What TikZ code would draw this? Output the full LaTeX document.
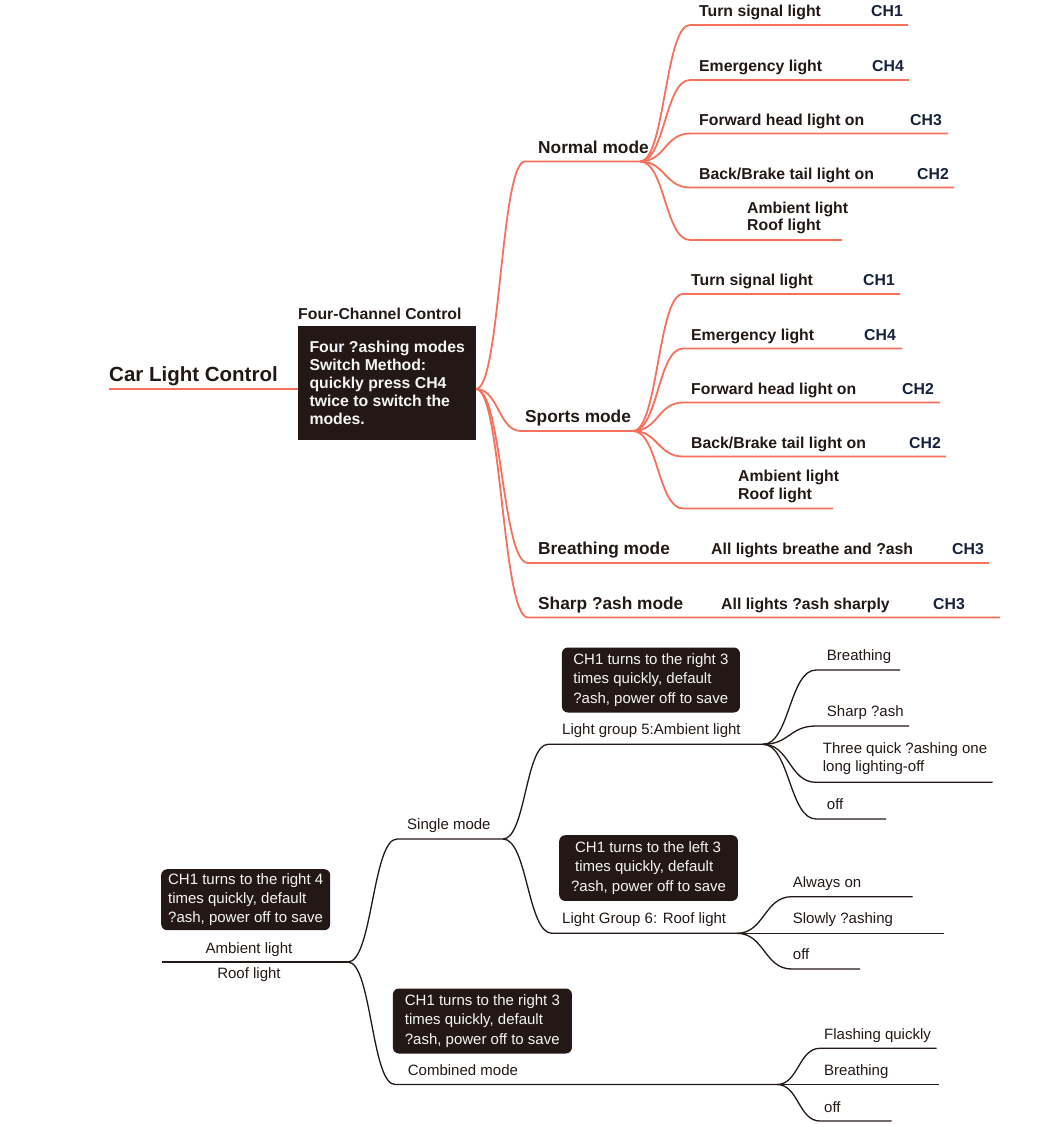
\documentclass[tikz,border=0pt]{standalone}
\usepackage{fontspec}
\setmainfont{Liberation Sans}
\usetikzlibrary{calc}
\definecolor{lred}{RGB}{247,112,92}
\definecolor{ink}{RGB}{35,24,21}
\definecolor{chblue}{RGB}{22,35,60}
\definecolor{boxfill}{RGB}{35,24,21}
\definecolor{boxtext}{RGB}{245,245,245}
\tikzset{
 lbl/.style={inner sep=0pt, anchor=south west, text depth=0pt, text=ink, align=left},
 rootf/.style={font=\bfseries\fontsize{20.5}{24}\selectfont},
 modef/.style={font=\bfseries\fontsize{17.3}{20}\selectfont},
 subf/.style={font=\bfseries\fontsize{15.8}{17.5}\selectfont},
 subf2/.style={font=\bfseries\fontsize{15.8}{18.5}\selectfont},
 chf/.style={font=\bfseries\fontsize{15.8}{18}\selectfont, text=chblue},
 lowf/.style={font=\fontsize{15}{18.4}\selectfont},
 rl/.style={draw=lred, line width=1.8pt},
 bl/.style={draw=ink, line width=1.3pt},
 topbox/.style={fill=boxfill, text=boxtext, anchor=north west, inner xsep=0pt, inner ysep=0pt, align=left, font=\bfseries\fontsize{15.8}{18}\selectfont},
 lowbox/.style={fill=boxfill, text=boxtext, rounded corners=6pt, anchor=north west, inner xsep=0pt, inner ysep=0pt, align=left, font=\fontsize{15}{19.3}\selectfont},
}
\newcommand\brn[4]{\draw[#1] (#2) .. controls ($(#2)!0.5!(#2 -| #3)$) and ($(#3)!0.5!(#2 |- #3)$) .. (#3) -- (#4);}
\begin{document}
\begin{tikzpicture}[x=1pt,y=-1pt]
\useasboundingbox (0,0) rectangle (1046,1124);
% ---------------- top part ----------------
\coordinate (rootL) at (109,389);
\coordinate (rootR) at (476,389);
\node[lbl,rootf] (root) at (109,382) {Car Light Control};
\node[lbl,subf] (fct) at (298,319.5) {Four-Channel Control};
\node[topbox, minimum width=178pt, minimum height=114pt] (fcc) at (298,326)
  {Four ?ashing modes\\Switch Method:\\quickly press CH4\\twice to switch the\\modes.};
\draw[rl] (rootL) -- (rootL -| fcc.west);

% Normal mode
\coordinate (nmS) at (525,161.5); \coordinate (nmE) at (640,161.5);
\node[lbl,modef] (nmT) at (538,153.5) {Normal mode};
\brn{rl}{rootR}{nmS}{nmE}
\coordinate (n1S) at (690,25);    \coordinate (n1E) at (908,25);
\coordinate (n2S) at (690,80);    \coordinate (n2E) at (909,80);
\coordinate (n3S) at (690,133.5); \coordinate (n3E) at (948,133.5);
\coordinate (n4S) at (690,187.5); \coordinate (n4E) at (954,187.5);
\coordinate (n5S) at (690,240);   \coordinate (n5E) at (842,240);
\foreach \k in {1,...,5} {\brn{rl}{nmE}{n\k S}{n\k E}}
\node[lbl,subf] (n1T) at (699,17) {Turn signal light};
\node[lbl,chf]  (n1C) at (871,17) {CH1};
\node[lbl,subf] (n2T) at (699,72) {Emergency light};
\node[lbl,chf]  (n2C) at (872,72) {CH4};
\node[lbl,subf] (n3T) at (699,125.5) {Forward head light on};
\node[lbl,chf]  (n3C) at (910,125.5) {CH3};
\node[lbl,subf] (n4T) at (699,179.5) {Back/Brake tail light on};
\node[lbl,chf]  (n4C) at (917,179.5) {CH2};
\node[lbl,subf] (n5T) at (747,231) {Ambient light\\Roof light};

% Sports mode
\coordinate (smS) at (521,431); \coordinate (smE) at (633,431);
\node[lbl,modef] (smT) at (525,423) {Sports mode};
\brn{rl}{rootR}{smS}{smE}
\coordinate (s1S) at (683,294);   \coordinate (s1E) at (900,294);
\coordinate (s2S) at (683,348.5); \coordinate (s2E) at (902,348.5);
\coordinate (s3S) at (683,402.5); \coordinate (s3E) at (940,402.5);
\coordinate (s4S) at (683,456.5); \coordinate (s4E) at (946,456.5);
\coordinate (s5S) at (683,508.5); \coordinate (s5E) at (833,508.5);
\foreach \k in {1,...,5} {\brn{rl}{smE}{s\k S}{s\k E}}
\node[lbl,subf] (s1T) at (691,286) {Turn signal light};
\node[lbl,chf]  (s1C) at (863,286) {CH1};
\node[lbl,subf] (s2T) at (691,340.5) {Emergency light};
\node[lbl,chf]  (s2C) at (864,340.5) {CH4};
\node[lbl,subf] (s3T) at (691,394.5) {Forward head light on};
\node[lbl,chf]  (s3C) at (902,394.5) {CH2};
\node[lbl,subf] (s4T) at (691,448.5) {Back/Brake tail light on};
\node[lbl,chf]  (s4C) at (909,448.5) {CH2};
\node[lbl,subf2] (s5T) at (738,500) {Ambient light\\Roof light};

% Breathing mode
\coordinate (bmS) at (528,563); \coordinate (bmE) at (989,563);
\brn{rl}{rootR}{bmS}{bmE}
\node[lbl,modef] (bmT) at (538,555) {Breathing mode};
\node[lbl,subf]  (bmD) at (711,555) {All lights breathe and ?ash};
\node[lbl,chf]   (bmC) at (952,555) {CH3};

% Sharp flash mode
\coordinate (fmS) at (528,617.5); \coordinate (fmE) at (1000,617.5);
\brn{rl}{rootR}{fmS}{fmE}
\node[lbl,modef] (fmT) at (538,609.5) {Sharp ?ash mode};
\node[lbl,subf]  (fmD) at (721,609.5) {All lights ?ash sharply};
\node[lbl,chf]   (fmC) at (933,609.5) {CH3};

% ---------------- bottom part ----------------
\coordinate (brL) at (162,962); \coordinate (brR) at (348,962);
\draw[bl] (brL) -- (brR);
\node[lbl,anchor=south,align=center,font=\fontsize{15}{25}\selectfont] (brT) at (249,978.3) {Ambient light\\Roof light};
\node[lowbox, minimum width=169pt, minimum height=61pt] (brB) at (161,869)
  {CH1 turns to the right 4\\times quickly, default\\?ash, power off to save};

% Single mode
\coordinate (sgS) at (397,839); \coordinate (sgE) at (503,839);
\brn{bl}{brR}{sgS}{sgE}
\node[lbl,lowf] (sgT) at (407,829.5) {Single mode};

% Light group 5
\coordinate (g5S) at (548,744.3); \coordinate (g5E) at (763,744.3);
\brn{bl}{sgE}{g5S}{g5E}
\node[lbl,lowf] (g5T) at (562,735) {Light group 5:Ambient light};
\node[lowbox, minimum width=178pt, minimum height=65pt] (g5B) at (561.7,647.3)
  {CH1 turns to the right 3\\times quickly, default\\?ash, power off to save};
\coordinate (a1S) at (816,670);   \coordinate (a1E) at (900,670);
\coordinate (a2S) at (816,726);   \coordinate (a2E) at (909,726);
\coordinate (a3S) at (816,782.3); \coordinate (a3E) at (992.7,782.3);
\coordinate (a4S) at (816,819);   \coordinate (a4E) at (886,819);
\foreach \k in {1,...,4} {\brn{bl}{g5E}{a\k S}{a\k E}}
\node[lbl,lowf] (a1T) at (826.7,661) {Breathing};
\node[lbl,lowf] (a2T) at (826.7,717) {Sharp ?ash};
\node[lbl,lowf] (a3T) at (822.7,772) {Three quick ?ashing one\\long lighting-off};
\node[lbl,lowf] (a4T) at (826.7,810) {off};

% Light group 6
\coordinate (g6S) at (552,933.3); \coordinate (g6E) at (737,933.3);
\brn{bl}{sgE}{g6S}{g6E}
\node[lbl,lowf] (g6T) at (562,924) {Light Group 6: Roof light};
\node[lowbox, minimum width=178.7pt, minimum height=65.7pt] (g6B) at (559,835)
  {\hspace*{4pt}CH1 turns to the left 3\\\hspace*{4pt}times quickly, default\\?ash, power off to save};
\coordinate (b1S) at (791.7,896.7); \coordinate (b1E) at (912.7,896.7);
\coordinate (b2S) at (791.7,933.3); \coordinate (b2E) at (944,933.3);
\coordinate (b3S) at (791.7,969);   \coordinate (b3E) at (860,969);
\foreach \k in {1,...,3} {\brn{bl}{g6E}{b\k S}{b\k E}}
\node[lbl,lowf] (b1T) at (792.7,888) {Always on};
\node[lbl,lowf] (b2T) at (792.7,924) {Slowly ?ashing};
\node[lbl,lowf] (b3T) at (792.7,960) {off};

% Combined mode
\coordinate (cmS) at (395,1084.5); \coordinate (cmE) at (777,1084.5);
\brn{bl}{brR}{cmS}{cmE}
\node[lbl,lowf] (cmT) at (407.7,1075.7) {Combined mode};
\node[lowbox, minimum width=179pt, minimum height=65pt] (cmB) at (392.7,988.3)
  {CH1 turns to the right 3\\times quickly, default\\?ash, power off to save};
\coordinate (c1S) at (820,1048.3); \coordinate (c1E) at (936.7,1048.3);
\coordinate (c2S) at (820,1084.5); \coordinate (c2E) at (939,1084.5);
\coordinate (c3S) at (820,1121);   \coordinate (c3E) at (891.7,1121);
\foreach \k in {1,...,3} {\brn{bl}{cmE}{c\k S}{c\k E}}
\node[lbl,lowf] (c1T) at (824,1040) {Flashing quickly};
\node[lbl,lowf] (c2T) at (824,1076) {Breathing};
\node[lbl,lowf] (c3T) at (824,1113) {off};
\end{tikzpicture}
\end{document}
